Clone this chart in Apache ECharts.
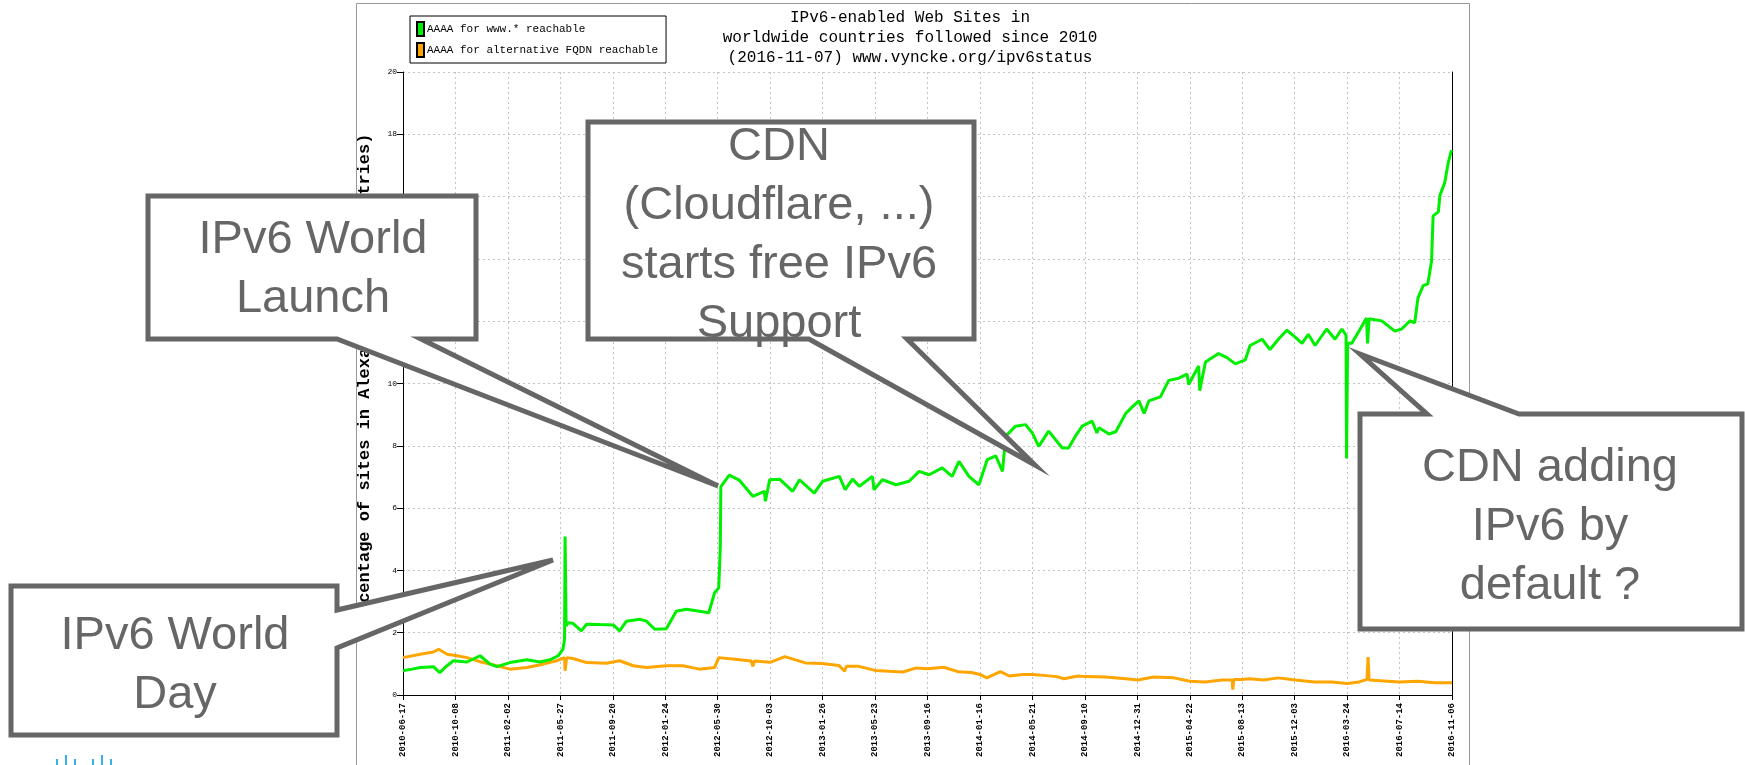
<!DOCTYPE html>
<html>
<head>
<meta charset="utf-8">
<title>IPv6-enabled Web Sites</title>
<script src="https://cdn.jsdelivr.net/npm/echarts@6/dist/echarts.min.js"></script>
<style>
  html, body { margin: 0; padding: 0; background: #fff; }
  #chart { width: 1745px; height: 765px; }
</style>
</head>
<body>
<div id="chart"></div>
<script>
// x axis is laid out in label slots (0..20), one date label per slot
const tickLabels = ['2010-06-17', '2010-10-08', '2011-02-02', '2011-05-27', '2011-09-20', '2012-01-24',
  '2012-05-30', '2012-10-03', '2013-01-26', '2013-05-23', '2013-09-16', '2014-01-16', '2014-05-21',
  '2014-09-10', '2014-12-31', '2015-04-22', '2015-08-13', '2015-12-03', '2016-03-24', '2016-07-14', '2016-11-06']

// green: AAAA for www.* reachable
const wwwPos = [0, 0.17, 0.33, 0.58, 0.70, 0.84, 0.96, 1.22, 1.47, 1.66, 1.79, 2.04, 2.36, 2.61, 2.80, 2.96,
  3.05, 3.08, 3.09, 3.11, 3.15, 3.24, 3.40, 3.50, 3.75, 4.01, 4.13, 4.26, 4.51, 4.64, 4.80, 5.02, 5.21, 5.40,
  5.65, 5.83, 5.84, 5.94, 6.02, 6.05, 6.06, 6.22, 6.41, 6.67, 6.89, 6.91, 6.99, 7.18, 7.43, 7.56, 7.84, 8.00,
  8.32, 8.43, 8.57, 8.70, 8.95, 8.98, 9.14, 9.40, 9.65, 9.84, 10.03, 10.28, 10.47, 10.60, 10.79, 10.98, 11.14,
  11.30, 11.43, 11.49, 11.68, 11.87, 12.00, 12.12, 12.31, 12.57, 12.69, 12.82, 12.95, 13.14, 13.23, 13.27,
  13.46, 13.59, 13.78, 13.90, 14.03, 14.13, 14.22, 14.44, 14.60, 14.79, 14.95, 14.98, 15.17, 15.19, 15.30,
  15.55, 15.71, 15.87, 16.06, 16.15, 16.38, 16.53, 16.69, 16.85, 17.01, 17.14, 17.26, 17.39, 17.61, 17.77,
  17.90, 17.98, 17.99, 18.01, 18.09, 18.25, 18.37, 18.39, 18.42, 18.66, 18.91, 19.04, 19.20, 19.29, 19.35,
  19.45, 19.54, 19.61, 19.64, 19.74, 19.77, 19.86, 19.93, 19.99]
const wwwVal = [0.78, 0.83, 0.88, 0.91, 0.72, 0.94, 1.10, 1.06, 1.26, 0.99, 0.91, 1.04, 1.13, 1.06, 1.13, 1.26,
  1.47, 1.79, 5.09, 2.22, 2.32, 2.30, 2.06, 2.27, 2.26, 2.25, 2.06, 2.37, 2.43, 2.37, 2.11, 2.13, 2.69, 2.75,
  2.69, 2.64, 2.58, 3.28, 3.44, 4.77, 6.69, 7.06, 6.90, 6.38, 6.54, 6.22, 6.91, 6.93, 6.54, 6.91, 6.48, 6.86,
  7.02, 6.59, 6.93, 6.70, 7.02, 6.59, 6.91, 6.75, 6.86, 7.18, 7.07, 7.29, 7.02, 7.50, 7.02, 6.75, 7.56,
  7.68, 7.18, 8.31, 8.63, 8.68, 8.41, 7.98, 8.47, 7.93, 7.93, 8.31, 8.63, 8.79, 8.41, 8.58,
  8.38, 8.45, 9.04, 9.24, 9.44, 9.04, 9.44, 9.57, 10.10, 10.17, 10.30, 9.97, 10.56, 9.77, 10.69,
  10.96, 10.83, 10.63, 10.76, 11.22, 11.42, 11.09, 11.42, 11.71, 11.49, 11.29, 11.58, 11.22, 11.75, 11.42,
  11.75, 11.55, 7.59, 11.29, 11.29, 11.75, 12.10, 11.29, 12.08, 12.01, 11.68, 11.75, 12.01, 11.95, 12.74,
  13.14, 13.20, 13.93, 15.38, 15.51, 16.04, 16.44, 17.10, 17.49]

// orange: AAAA for alternative FQDN reachable
const altPos = [0, 0.33, 0.58, 0.68, 0.84, 1.03, 1.22, 1.47, 1.79, 2.04, 2.36, 2.67, 2.93, 3.08, 3.09, 3.12,
  3.24, 3.50, 3.88, 4.13, 4.39, 4.64, 5.02, 5.34, 5.65, 5.94, 6.02, 6.38, 6.64, 6.67, 6.70, 7.00, 7.28, 7.67,
  7.99, 8.31, 8.42, 8.45, 8.69, 9.00, 9.27, 9.53, 9.79, 10.00, 10.31, 10.58, 10.84, 11.00, 11.13, 11.39,
  11.56, 11.82, 12.00, 12.21, 12.47, 12.60, 12.87, 13.02, 13.39, 13.78, 14.01, 14.31, 14.70, 15.00, 15.29,
  15.62, 15.81, 15.82, 15.84, 15.99, 16.14, 16.40, 16.69, 17.01, 17.38, 17.71, 18.00, 18.23, 18.38, 18.40,
  18.42, 19.00, 19.35, 19.67, 20.00]
const altVal = [1.20, 1.31, 1.38, 1.47, 1.31, 1.26, 1.20, 1.07, 0.94, 0.83, 0.88, 0.99, 1.10, 1.20, 0.78, 1.20,
  1.17, 1.04, 1.02, 1.10, 0.94, 0.88, 0.94, 0.94, 0.83, 0.88, 1.20, 1.14, 1.09, 0.92, 1.09, 1.05, 1.23, 1.03,
  1.01, 0.95, 0.76, 0.92, 0.92, 0.79, 0.76, 0.74, 0.87, 0.84, 0.89, 0.75, 0.72, 0.66, 0.55, 0.75,
  0.61, 0.66, 0.66, 0.63, 0.59, 0.52, 0.61, 0.59, 0.58, 0.52, 0.48, 0.58, 0.55, 0.44, 0.42,
  0.48, 0.48, 0.17, 0.50, 0.50, 0.52, 0.48, 0.55, 0.48, 0.42, 0.42, 0.37, 0.42, 0.50, 1.22,
  0.48, 0.42, 0.44, 0.39, 0.39]

const mono = "'Liberation Mono', 'DejaVu Sans Mono', monospace"
const sans = "'Liberation Sans', Arial, sans-serif"
const calloutStroke = '#666666'

// speech-bubble callouts drawn on top of the chart
function callout (points, text, cx, cy) {
  return [
    {
      type: 'polygon',
      z: 100,
      shape: { points: points },
      style: { fill: '#fff', stroke: calloutStroke, lineWidth: 5, lineJoin: 'miter' }
    },
    {
      type: 'text',
      z: 101,
      x: cx,
      y: cy,
      style: {
        text: text,
        font: '47px ' + sans,
        fill: calloutStroke,
        align: 'center',
        verticalAlign: 'middle',
        lineHeight: 59
      }
    }
  ]
}

const chart = echarts.init(document.getElementById('chart'))
chart.setOption({
  animation: false,
  backgroundColor: '#fff',
  grid: { left: 403, right: 293, top: 72, bottom: 70 },
  legend: {
    orient: 'vertical',
    left: 410,
    top: 16,
    padding: [5, 8, 5, 6],
    itemGap: 5,
    itemWidth: 7,
    itemHeight: 14,
    borderColor: '#000',
    borderWidth: 1,
    icon: 'rect',
    textStyle: { fontFamily: mono, fontSize: 11, color: '#000', padding: [0, 0, 0, -2] },
    data: ['AAAA for www.* reachable', 'AAAA for alternative FQDN reachable']
  },
  xAxis: {
    type: 'value',
    min: 0,
    max: 20,
    interval: 1,
    axisLine: { lineStyle: { color: '#000', width: 1 } },
    axisTick: { length: 5, lineStyle: { color: '#000' } },
    splitLine: { show: true, lineStyle: { color: '#c4c4c4', type: [2, 3] } },
    axisLabel: {
      rotate: 90,
      margin: 8,
      fontFamily: mono,
      fontSize: 9,
      fontWeight: 'bold',
      color: '#000',
      formatter: (v) => tickLabels[Math.round(v)]
    }
  },
  yAxis: [
    {
      type: 'value',
      min: 0,
      max: 20,
      interval: 2,
      name: 'Percentage of sites in Alexa top- (all countries)',
      nameLocation: 'middle',
      nameGap: 30,
      nameTextStyle: { fontFamily: mono, fontSize: 17, fontWeight: 'bold', color: '#000' },
      axisLine: { show: true, lineStyle: { color: '#000', width: 1 } },
      axisTick: { show: true, length: 6, lineStyle: { color: '#000' } },
      splitLine: { show: true, lineStyle: { color: '#c4c4c4', type: [2, 3] } },
      axisLabel: { fontFamily: mono, fontSize: 8, color: '#000', margin: 6 }
    },
    {
      type: 'value',
      position: 'right',
      min: 0,
      max: 20,
      axisLine: { show: true, lineStyle: { color: '#000', width: 1 } },
      axisTick: { show: false },
      axisLabel: { show: false },
      splitLine: { show: false }
    }
  ],
  series: [
    {
      name: 'AAAA for alternative FQDN reachable',
      type: 'line',
      showSymbol: false,
      color: '#ffa500',
      lineStyle: { width: 3, color: '#ffa500' },
      itemStyle: { color: '#ffa500', borderColor: '#000', borderWidth: 1 },
      data: altPos.map((p, i) => [p, altVal[i]])
    },
    {
      name: 'AAAA for www.* reachable',
      type: 'line',
      showSymbol: false,
      color: '#00ee00',
      lineStyle: { width: 3, color: '#00ee00' },
      itemStyle: { color: '#00ee00', borderColor: '#000', borderWidth: 1 },
      data: wwwPos.map((p, i) => [p, wwwVal[i]])
    }
  ],
  graphic: [
    // frame around the chart picture
    {
      type: 'rect',
      z: -1,
      shape: { x: 356.5, y: 3.5, width: 1113, height: 762 },
      style: { fill: null, stroke: '#999', lineWidth: 1 }
    },
    {
      type: 'text',
      z: 5,
      x: 910,
      y: 8,
      style: {
        text: 'IPv6-enabled Web Sites in\nworldwide countries followed since 2010\n(2016-11-07) www.vyncke.org/ipv6status',
        font: '16px ' + mono,
        fill: '#000',
        align: 'center',
        verticalAlign: 'top',
        lineHeight: 20
      }
    },
    ...callout([[11, 586], [337, 586], [337, 610], [553, 560], [337, 648], [337, 735], [11, 735]],
      'IPv6 World\nDay', 175, 666),
    ...callout([[148, 196], [476, 196], [476, 339], [421, 339], [718, 486], [337, 339], [148, 339]],
      'IPv6 World\nLaunch', 313, 270),
    ...callout([[588, 122], [974, 122], [974, 339], [907, 339], [1035, 465], [809, 339], [588, 339]],
      'CDN\n(Cloudflare, ...)\nstarts free IPv6\nSupport', 779, 236),
    ...callout([[1360, 414], [1427, 414], [1360, 354], [1519, 414], [1742, 414], [1742, 629], [1360, 629]],
      'CDN adding\nIPv6 by\ndefault ?', 1550, 527),
    // bit of the logo peeking in at the bottom left
    {
      type: 'group',
      z: 5,
      children: [
        { type: 'rect', shape: { x: 56, y: 759, width: 2, height: 6 }, style: { fill: '#34b4e4' } },
        { type: 'rect', shape: { x: 65, y: 755, width: 2, height: 10 }, style: { fill: '#34b4e4' } },
        { type: 'rect', shape: { x: 74, y: 759, width: 2, height: 6 }, style: { fill: '#34b4e4' } },
        { type: 'rect', shape: { x: 92, y: 759, width: 2, height: 6 }, style: { fill: '#34b4e4' } },
        { type: 'rect', shape: { x: 101, y: 755, width: 2, height: 10 }, style: { fill: '#34b4e4' } },
        { type: 'rect', shape: { x: 110, y: 759, width: 2, height: 6 }, style: { fill: '#34b4e4' } }
      ]
    }
  ]
})
</script>
</body>
</html>
